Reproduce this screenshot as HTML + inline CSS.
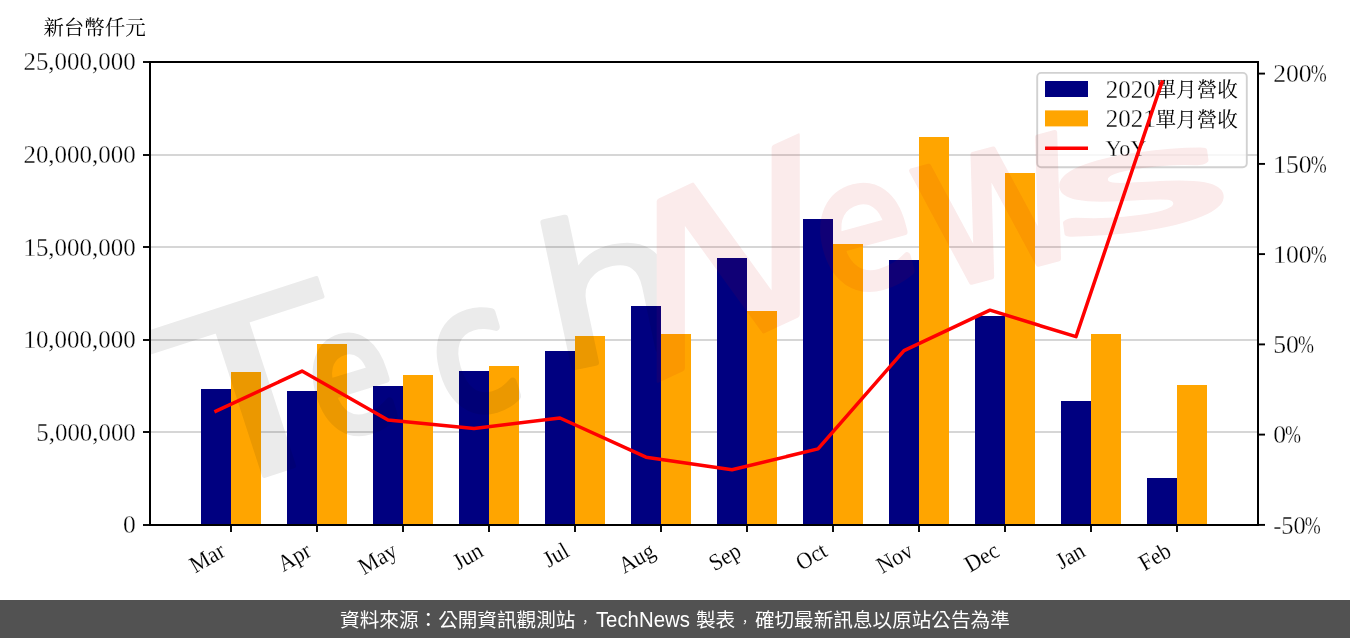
<!DOCTYPE html>
<html lang="zh-Hant">
<head>
<meta charset="utf-8">
<title>新台幣仟元</title>
<style>
html,body{margin:0;padding:0;background:#fff;}
body{width:1350px;height:638px;overflow:hidden;}
svg{display:block;}
.s{font-family:"Liberation Serif","Noto Serif CJK SC",serif;fill:#000;}
.n{stroke:#fff;stroke-width:0.3px;}
.m{stroke:#fff;stroke-width:0.12px;}
.f{font-family:"Liberation Sans","Noto Sans CJK TC",sans-serif;fill:#fff;}
.w{font-family:"DejaVu Sans","Liberation Sans",sans-serif;}
</style>
</head>
<body>
<svg width="1350" height="638" viewBox="0 0 1350 638">
<rect x="0" y="0" width="1350" height="638" fill="#fff"/>
<g stroke="#d6d6d6" stroke-width="2">
<line x1="150.0" x2="1258.0" y1="432" y2="432"/>
<line x1="150.0" x2="1258.0" y1="340" y2="340"/>
<line x1="150.0" x2="1258.0" y1="247" y2="247"/>
<line x1="150.0" x2="1258.0" y1="155" y2="155"/>
</g>
<g fill="#000080">
<rect x="201.0" y="389.0" width="30.0" height="136.0"/>
<rect x="287.0" y="391.0" width="30.0" height="134.0"/>
<rect x="373.0" y="386.0" width="30.0" height="139.0"/>
<rect x="459.0" y="371.0" width="30.0" height="154.0"/>
<rect x="545.0" y="351.0" width="30.0" height="174.0"/>
<rect x="631.0" y="306.0" width="30.0" height="219.0"/>
<rect x="717.0" y="258.0" width="30.0" height="267.0"/>
<rect x="803.0" y="219.0" width="30.0" height="306.0"/>
<rect x="889.0" y="260.0" width="30.0" height="265.0"/>
<rect x="975.0" y="316.0" width="30.0" height="209.0"/>
<rect x="1061.0" y="401.0" width="30.0" height="124.0"/>
<rect x="1147.0" y="478.0" width="30.0" height="47.0"/>
</g>
<g fill="#ffa500">
<rect x="231.0" y="372.0" width="30.0" height="153.0"/>
<rect x="317.0" y="344.0" width="30.0" height="181.0"/>
<rect x="403.0" y="375.0" width="30.0" height="150.0"/>
<rect x="489.0" y="366.0" width="30.0" height="159.0"/>
<rect x="575.0" y="336.0" width="30.0" height="189.0"/>
<rect x="661.0" y="334.0" width="30.0" height="191.0"/>
<rect x="747.0" y="311.0" width="30.0" height="214.0"/>
<rect x="833.0" y="244.0" width="30.0" height="281.0"/>
<rect x="919.0" y="137.0" width="30.0" height="388.0"/>
<rect x="1005.0" y="173.0" width="30.0" height="352.0"/>
<rect x="1091.0" y="334.0" width="30.0" height="191.0"/>
<rect x="1177.0" y="385.0" width="30.0" height="140.0"/>
</g>
<rect x="1037.2" y="72.9" width="209.6" height="94.4" rx="4" ry="4" fill="#fff" fill-opacity="0.8" stroke="#ccc" stroke-opacity="0.9" stroke-width="1.9"/>
<rect x="1045" y="81" width="43" height="16" fill="#000080"/>
<rect x="1045" y="110.4" width="43" height="16" fill="#ffa500"/>
<line x1="1045" x2="1088" y1="148.3" y2="148.3" stroke="#f00" stroke-width="3.5"/>
<text class="s n" x="1105.8" y="97.5" font-size="25.4" textLength="50" lengthAdjust="spacingAndGlyphs">2020</text><text class="s" x="1155.5" y="97.2" font-size="20.6">單月營收</text>
<text class="s n" x="1105.8" y="126.9" font-size="25.4" textLength="50" lengthAdjust="spacingAndGlyphs">2021</text><text class="s" x="1155.5" y="126.6" font-size="20.6">單月營收</text>
<text class="s n" x="1105.5" y="155.8" font-size="23.5" textLength="41" lengthAdjust="spacingAndGlyphs">YoY</text>
<clipPath id="ax"><rect x="150.0" y="62.0" width="1108.0" height="463.0"/></clipPath>
<g opacity="0.082" stroke-linejoin="round" stroke-linecap="round" clip-path="url(#ax)">
<text class="w" transform="translate(190,500) rotate(-18) scale(1.3,1)" font-size="236" fill="#000" stroke="#000" stroke-width="4">T</text>
<text class="w" transform="translate(326,441) rotate(-17) scale(0.8,1)" font-size="168" fill="#000" stroke="#000" stroke-width="9">e</text>
<text class="w" transform="translate(450,420) rotate(-17) scale(0.85,1)" font-size="172" fill="#000" stroke="#000" stroke-width="9">c</text>
<text class="w" transform="translate(554,371.6) rotate(-12) scale(1.2,1)" font-size="195" fill="#000" stroke="#000" stroke-width="6">h</text>
<text class="w" transform="matrix(1,-0.466,0,1,634,392) scale(1.02,1)" font-size="247" fill="#cf0000" stroke="#cf0000" stroke-width="4">N</text>
<text class="w" transform="translate(830.6,297.5) rotate(-15) scale(0.88,1)" font-size="178" fill="#cf0000" stroke="#cf0000" stroke-width="8">e</text>
<text class="w" transform="translate(935,292) rotate(-15) scale(0.9,1)" font-size="225" fill="#cf0000" stroke="#cf0000" stroke-width="5">w</text>
<text class="w" transform="translate(1056,238) rotate(-8) scale(2.75,1)" font-size="125" fill="#cf0000" stroke="#cf0000" stroke-width="7">s</text>
</g>
<rect x="150.0" y="62.0" width="1108.0" height="463.0" fill="none" stroke="#000" stroke-width="2"/>
<g stroke="#000" stroke-width="1.9">
<line x1="143.0" x2="150.0" y1="525.0" y2="525.0"/>
<line x1="143.0" x2="150.0" y1="432.0" y2="432.0"/>
<line x1="143.0" x2="150.0" y1="340.0" y2="340.0"/>
<line x1="143.0" x2="150.0" y1="247.0" y2="247.0"/>
<line x1="143.0" x2="150.0" y1="155.0" y2="155.0"/>
<line x1="143.0" x2="150.0" y1="62.0" y2="62.0"/>
<line x1="1258.0" x2="1265.0" y1="524.9" y2="524.9"/>
<line x1="1258.0" x2="1265.0" y1="434.6" y2="434.6"/>
<line x1="1258.0" x2="1265.0" y1="344.4" y2="344.4"/>
<line x1="1258.0" x2="1265.0" y1="254.1" y2="254.1"/>
<line x1="1258.0" x2="1265.0" y1="163.9" y2="163.9"/>
<line x1="1258.0" x2="1265.0" y1="73.6" y2="73.6"/>
<line x1="231.0" x2="231.0" y1="525.0" y2="532.0"/>
<line x1="317.0" x2="317.0" y1="525.0" y2="532.0"/>
<line x1="403.0" x2="403.0" y1="525.0" y2="532.0"/>
<line x1="489.0" x2="489.0" y1="525.0" y2="532.0"/>
<line x1="575.0" x2="575.0" y1="525.0" y2="532.0"/>
<line x1="661.0" x2="661.0" y1="525.0" y2="532.0"/>
<line x1="747.0" x2="747.0" y1="525.0" y2="532.0"/>
<line x1="833.0" x2="833.0" y1="525.0" y2="532.0"/>
<line x1="919.0" x2="919.0" y1="525.0" y2="532.0"/>
<line x1="1005.0" x2="1005.0" y1="525.0" y2="532.0"/>
<line x1="1091.0" x2="1091.0" y1="525.0" y2="532.0"/>
<line x1="1177.0" x2="1177.0" y1="525.0" y2="532.0"/>
</g>
<polyline points="216.0,411.2 302.0,371.1 388.0,420.0 474.0,428.4 560.0,418.0 646.0,457.2 732.0,469.8 818.0,448.9 904.0,350.7 990.0,310.2 1076.0,336.7 1162.0,82.0" fill="none" stroke="#f00" stroke-width="3.5" stroke-linejoin="round" stroke-linecap="square"/>
<text class="s n" x="135.8" y="533.4" font-size="24.7" text-anchor="end" textLength="12.8" lengthAdjust="spacingAndGlyphs">0</text>
<text class="s n" x="135.8" y="440.8" font-size="24.7" text-anchor="end" textLength="99.5" lengthAdjust="spacingAndGlyphs">5,000,000</text>
<text class="s n" x="135.8" y="348.2" font-size="24.7" text-anchor="end" textLength="112.4" lengthAdjust="spacingAndGlyphs">10,000,000</text>
<text class="s n" x="135.8" y="255.6" font-size="24.7" text-anchor="end" textLength="112.4" lengthAdjust="spacingAndGlyphs">15,000,000</text>
<text class="s n" x="135.8" y="163.0" font-size="24.7" text-anchor="end" textLength="112.4" lengthAdjust="spacingAndGlyphs">20,000,000</text>
<text class="s n" x="135.8" y="70.4" font-size="24.7" text-anchor="end" textLength="112.4" lengthAdjust="spacingAndGlyphs">25,000,000</text>
<text class="s n" y="533.5" font-size="24.7"><tspan x="1273.2" textLength="32.5" lengthAdjust="spacingAndGlyphs">-50</tspan><tspan x="1304.8" textLength="16.0" lengthAdjust="spacingAndGlyphs">%</tspan></text>
<text class="s n" y="443.2" font-size="24.7"><tspan x="1273.2" textLength="12.8" lengthAdjust="spacingAndGlyphs">0</tspan><tspan x="1285.1" textLength="16.0" lengthAdjust="spacingAndGlyphs">%</tspan></text>
<text class="s n" y="353.0" font-size="24.7"><tspan x="1273.2" textLength="25.7" lengthAdjust="spacingAndGlyphs">50</tspan><tspan x="1298.0" textLength="16.0" lengthAdjust="spacingAndGlyphs">%</tspan></text>
<text class="s n" y="262.7" font-size="24.7"><tspan x="1273.2" textLength="38.5" lengthAdjust="spacingAndGlyphs">100</tspan><tspan x="1310.8" textLength="16.0" lengthAdjust="spacingAndGlyphs">%</tspan></text>
<text class="s n" y="172.5" font-size="24.7"><tspan x="1273.2" textLength="38.5" lengthAdjust="spacingAndGlyphs">150</tspan><tspan x="1310.8" textLength="16.0" lengthAdjust="spacingAndGlyphs">%</tspan></text>
<text class="s n" y="82.2" font-size="24.7"><tspan x="1273.2" textLength="38.5" lengthAdjust="spacingAndGlyphs">200</tspan><tspan x="1310.8" textLength="16.0" lengthAdjust="spacingAndGlyphs">%</tspan></text>
<text class="s m" transform="translate(226.8,555.2) rotate(-30) scale(0.93,1)" font-size="23.5" text-anchor="end">Mar</text>
<text class="s m" transform="translate(312.8,555.2) rotate(-30) scale(0.93,1)" font-size="23.5" text-anchor="end">Apr</text>
<text class="s m" transform="translate(398.8,555.2) rotate(-30) scale(0.93,1)" font-size="23.5" text-anchor="end">May</text>
<text class="s m" transform="translate(484.8,555.2) rotate(-30) scale(0.93,1)" font-size="23.5" text-anchor="end">Jun</text>
<text class="s m" transform="translate(570.8,555.2) rotate(-30) scale(0.93,1)" font-size="23.5" text-anchor="end">Jul</text>
<text class="s m" transform="translate(656.8,555.2) rotate(-30) scale(0.93,1)" font-size="23.5" text-anchor="end">Aug</text>
<text class="s m" transform="translate(742.8,555.2) rotate(-30) scale(0.93,1)" font-size="23.5" text-anchor="end">Sep</text>
<text class="s m" transform="translate(828.8,555.2) rotate(-30) scale(0.93,1)" font-size="23.5" text-anchor="end">Oct</text>
<text class="s m" transform="translate(914.8,555.2) rotate(-30) scale(0.93,1)" font-size="23.5" text-anchor="end">Nov</text>
<text class="s m" transform="translate(1000.8,555.2) rotate(-30) scale(0.93,1)" font-size="23.5" text-anchor="end">Dec</text>
<text class="s m" transform="translate(1086.8,555.2) rotate(-30) scale(0.93,1)" font-size="23.5" text-anchor="end">Jan</text>
<text class="s m" transform="translate(1172.8,555.2) rotate(-30) scale(0.93,1)" font-size="23.5" text-anchor="end">Feb</text>
<text class="s" x="43.4" y="34.6" font-size="20.45">新台幣仟元</text>
<rect x="0" y="600" width="1350" height="38" fill="#525252"/>
<text class="f" y="626.8" font-size="19.62" lang="zh-Hant"><tspan x="340.1">資料來源：公開資訊觀測站</tspan><tspan font-size="12.5" dx="3.6" dy="-0.2">，</tspan><tspan x="595.9" y="627.1" font-size="21.8" textLength="94" lengthAdjust="spacingAndGlyphs">TechNews</tspan><tspan x="690.5" y="626.8"> 製表</tspan><tspan font-size="12.5" dx="3.6" dy="-0.2">，</tspan><tspan dx="3.6" dy="0.2">確切最新訊息以原站公告為準</tspan></text>
</svg>
</body>
</html>
